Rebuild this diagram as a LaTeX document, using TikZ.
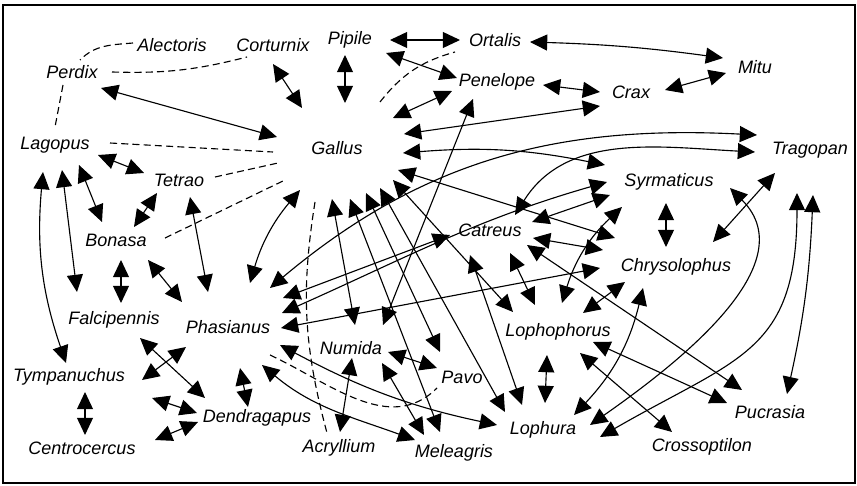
\documentclass[tikz,border=0pt]{standalone}
\usepackage{fontspec}
\setmainfont{Liberation Sans}
\usetikzlibrary{arrows.meta,calc}

\begin{document}
\begin{tikzpicture}[
  x=0.025cm, y=-0.025cm,
  >={Triangle[length=4.3mm,width=4mm]},
  taxon/.style={font=\fontsize{12.8}{15}\selectfont\itshape, inner sep=0pt},
  link/.style={<->, line width=.8pt, draw=black},
  weak/.style={dash pattern=on 5pt off 3pt, line width=.8pt, draw=black}
]
\useasboundingbox (0,0) rectangle (857,486);
\draw[line width=1.3pt] (3,5) rectangle (855,483);

\node[taxon] (Alectoris) at (172,45) {Alectoris};
\node[taxon] (Corturnix) at (273,45) {Corturnix};
\node[taxon] (Pipile) at (350,40) {Pipile};
\node[taxon] (Ortalis) at (495,40) {Ortalis};
\node[taxon] (Perdix) at (72,72) {Perdix};
\node[taxon] (Penelope) at (497,82) {Penelope};
\node[taxon] (Crax) at (631,92) {Crax};
\node[taxon] (Mitu) at (755,67) {Mitu};
\node[taxon] (Gallus) at (337,148) {Gallus};
\node[taxon] (Lagopus) at (55,145) {Lagopus};
\node[taxon] (Tragopan) at (810,150) {Tragopan};
\node[taxon] (Tetrao) at (179,180) {Tetrao};
\node[taxon] (Syrmaticus) at (669,182) {Syrmaticus};
\node[taxon] (Bonasa) at (116,240) {Bonasa};
\node[taxon] (Catreus) at (490,230) {Catreus};
\node[taxon] (Chrysolophus) at (676,267) {Chrysolophus};
\node[taxon] (Falcipennis) at (114,320) {Falcipennis};
\node[taxon] (Phasianus) at (228,327) {Phasianus};
\node[taxon] (Lophophorus) at (558,332) {Lophophorus};
\node[taxon] (Numida) at (351,348) {Numida};
\node[taxon] (Pavo) at (462,377) {Pavo};
\node[taxon] (Tympanuchus) at (69,377) {Tympanuchus};
\node[taxon] (Dendragapus) at (257,418) {Dendragapus};
\node[taxon] (Pucrasia) at (770,412) {Pucrasia};
\node[taxon] (Centrocercus) at (82,448) {Centrocercus};
\node[taxon] (Acryllium) at (339,448) {Acryllium};
\node[taxon] (Meleagris) at (454,453) {Meleagris};
\node[taxon] (Lophura) at (543,430) {Lophura};
\node[taxon] (Crossoptilon) at (702,447) {Crossoptilon};

% dashed links
\draw[weak] ($(Alectoris)+(-39,-2)$) to[out=185,in=45] ($(Perdix)+(8,-12)$);
\draw[weak] ($(Perdix)+(-9,13)$) -- ($(Lagopus)+(0,-18)$);
\draw[weak] ($(Perdix)+(40,0)$) to[bend right=8] ($(Corturnix)+(-26,12)$);
\draw[weak] ($(Lagopus)+(55,-2)$) -- ($(Gallus)+(-64,4)$);
\draw[weak] ($(Tetrao)+(36,-3)$) -- ($(Gallus)+(-59,15)$);
\draw[weak] ($(Bonasa)+(49,-2)$) -- ($(Gallus)+(-52,32)$);
\draw[weak] ($(Gallus)+(43,-46)$) to[bend left=18] ($(Ortalis)+(-40,12)$);
\draw[weak] ($(Gallus)+(-22,54)$) to[bend right=12] ($(Acryllium)+(-12,-15)$);
\draw[weak] ($(Phasianus)+(42,28)$) to[out=-25,in=225] ($(Pavo)+(-25,11)$);

% Gallus
\draw[link] ($(Perdix)+(29,16)$) -- ($(Gallus)+(-60,-11)$);
\draw[link] ($(Corturnix)+(0,19)$) -- ($(Gallus)+(-35,-40)$);
\draw[link] ($(Pipile)+(-5,15)$) -- ($(Gallus)+(8,-45)$);
\draw[link] ($(Gallus)+(56,-30)$) -- ($(Penelope)+(-45,9)$);
\draw[link] ($(Gallus)+(67,-14)$) -- ($(Crax)+(-31,14)$);
\draw[link] ($(Gallus)+(66,5)$) to[bend left=8] ($(Syrmaticus)+(-64,-17)$);
\draw[link] ($(Gallus)+(61,22)$) -- ($(Chrysolophus)+(-61,-29)$);
\draw[link] ($(Gallus)+(56,32)$) -- ($(Lophophorus)+(-45,-20)$);
\draw[link] ($(Gallus)+(43,40)$) -- ($(Lophura)+(-38,-18)$);
\draw[link] ($(Gallus)+(29,45)$) -- ($(Pavo)+(-22,-25)$);
\draw[link] ($(Gallus)+(13,51)$) -- ($(Meleagris)+(-14,-21)$);
\draw[link] ($(Gallus)+(-5,51)$) -- ($(Numida)+(4,-23)$);
\draw[link] ($(Gallus)+(-37,42)$) to[bend right=12] ($(Phasianus)+(22,-44)$);

% guans and curassows
\draw[link] ($(Pipile)+(40,0)$) -- ($(Ortalis)+(-35,0)$);
\draw[link] ($(Pipile)+(36,13)$) -- ($(Penelope)+(-40,-4)$);
\draw[link] ($(Ortalis)+(35,2)$) to[bend left=3] ($(Mitu)+(-32,-9)$);
\draw[link] ($(Penelope)+(46,3)$) -- ($(Crax)+(-31,0)$);
\draw[link] ($(Crax)+(34,-2)$) -- ($(Mitu)+(-29,6)$);
\draw[link] ($(Penelope)+(-24,17)$) -- ($(Numida)+(32,-23)$);

% grouse
\draw[link] ($(Lagopus)+(43,10)$) -- ($(Tetrao)+(-35,-7)$);
\draw[link] ($(Lagopus)+(24,20)$) -- ($(Bonasa)+(-14,-18)$);
\draw[link] ($(Lagopus)+(7,25)$) -- ($(Falcipennis)+(-37,-28)$);
\draw[link] ($(Lagopus)+(-12,27)$) to[bend right=12] ($(Tympanuchus)+(-3,-14)$);
\draw[link] ($(Tetrao)+(-22,13)$) -- ($(Bonasa)+(18,-13)$);
\draw[link] ($(Tetrao)+(11,17)$) -- ($(Phasianus)+(-20,-35)$);
\draw[link] ($(Bonasa)+(5,20)$) -- ($(Falcipennis)+(7,-17)$);
\draw[link] ($(Bonasa)+(32,20)$) -- ($(Phasianus)+(-46,-25)$);
\draw[link] ($(Falcipennis)+(26,18)$) -- ($(Dendragapus)+(-52,-20)$);
\draw[link] ($(Tympanuchus)+(73,3)$) -- ($(Phasianus)+(-42,20)$);
\draw[link] ($(Tympanuchus)+(83,21)$) -- ($(Dendragapus)+(-60,-5)$);
\draw[link] ($(Tympanuchus)+(16,15)$) -- ($(Centrocercus)+(3,-13)$);
\draw[link] ($(Centrocercus)+(73,-8)$) -- ($(Dendragapus)+(-59,4)$);
\draw[link] ($(Phasianus)+(12,41)$) -- ($(Dendragapus)+(-9,-11)$);

% Phasianus
\draw[link] ($(Phasianus)+(42,-39)$) to[out=40,in=177] ($(Tragopan)+(-53,-15)$);
\draw[link] ($(Phasianus)+(55,-29)$) -- ($(Catreus)+(-40,5)$);
\draw[link] ($(Phasianus)+(54,-14)$) to[out=24,in=196] ($(Syrmaticus)+(-62,0)$);
\draw[link] ($(Phasianus)+(53,1)$) -- ($(Chrysolophus)+(-76,1)$);
\draw[link] ($(Phasianus)+(52,18)$) to[out=-28,in=168] ($(Lophura)+(-46,-5)$);
\draw[link] ($(Phasianus)+(34,38)$) to[out=-40,in=160] ($(Meleagris)+(-39,-13)$);

% Numida
\draw[link] ($(Numida)+(1,10)$) -- ($(Acryllium)+(1,-16)$);
\draw[link] ($(Numida)+(37,4)$) -- ($(Pavo)+(-25,-9)$);
\draw[link] ($(Numida)+(31,15)$) -- ($(Meleagris)+(-30,-18)$);

% Catreus
\draw[link] ($(Catreus)+(25,-15)$) to[out=58,in=177] ($(Tragopan)+(-55,2)$);
\draw[link] ($(Catreus)+(42,-8)$) -- ($(Syrmaticus)+(-59,13)$);
\draw[link] ($(Catreus)+(43,8)$) -- ($(Chrysolophus)+(-73,-17)$);
\draw[link] ($(Catreus)+(37,15)$) -- ($(Pucrasia)+(-28,-22)$);
\draw[link] ($(Catreus)+(20,23)$) -- ($(Lophophorus)+(-23,-27)$);
\draw[link] ($(Catreus)+(-20,25)$) -- ($(Lophura)+(-21,-25)$);

% Syrmaticus, Chrysolophus, Tragopan
\draw[link] ($(Syrmaticus)+(-3,21)$) -- ($(Chrysolophus)+(-10,-20)$);
\draw[link] ($(Syrmaticus)+(-47,25)$) to[bend right=15] ($(Lophophorus)+(4,-29)$);
\draw[link] ($(Syrmaticus)+(61,6)$) to[out=-45,in=35] ($(Lophura)+(47,-5)$);
\draw[link] ($(Chrysolophus)+(37,-25)$) -- ($(Tragopan)+(-35,23)$);
\draw[link] ($(Chrysolophus)+(-51,15)$) -- ($(Lophophorus)+(25,-19)$);
\draw[link] ($(Chrysolophus)+(-33,21)$) to[bend left=15] ($(Lophura)+(31,-15)$);
\draw[link] ($(Tragopan)+(-13,43)$) to[out=-90,in=30,looseness=1.3] ($(Lophura)+(57,7)$);
\draw[link] ($(Tragopan)+(3,45)$) to[bend left=5] ($(Pucrasia)+(17,-18)$);

% Lophophorus
\draw[link] ($(Lophophorus)+(-11,23)$) -- ($(Lophura)+(2,-27)$);
\draw[link] ($(Lophophorus)+(35,10)$) -- ($(Pucrasia)+(-43,-9)$);
\draw[link] ($(Lophophorus)+(22,21)$) -- ($(Crossoptilon)+(-30,-15)$);
\end{tikzpicture}
\end{document}
